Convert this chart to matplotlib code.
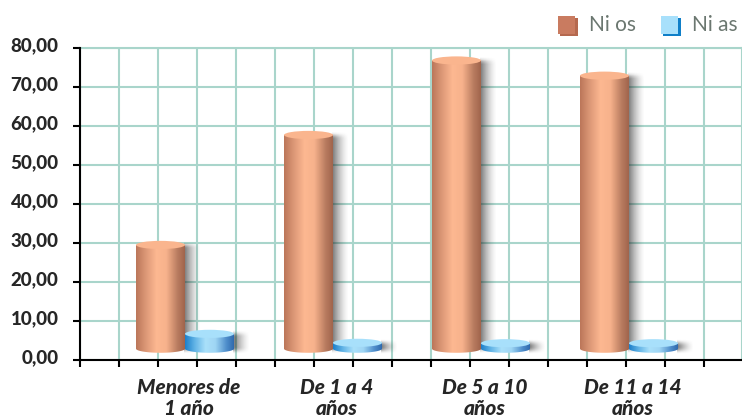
#!/usr/bin/env python3

import numpy as np
import matplotlib
matplotlib.use("Agg")
import matplotlib.pyplot as plt
from matplotlib.colors import LinearSegmentedColormap
from matplotlib.patches import Ellipse, Rectangle
from matplotlib.path import Path
from matplotlib.transforms import ScaledTranslation

categories = ["Menores de\n1 año", "De 1 a 4\naños", "De 5 a 10\naños", "De 11 a 14\naños"]
ninos = [29.5, 57.7, 76.8, 72.9]
ninas = [6.7, 4.4, 4.3, 4.3]
y_ticks = [0, 10, 20, 30, 40, 50, 60, 70, 80]
y_labels = ["0,00", "10,00", "20,00", "30,00", "40,00", "50,00", "60,00", "70,00", "80,00"]
series_names = ["Ni os", "Ni as"]

W, H = 742, 419
GRID = "#a9d5cb"
DARK = "#262626"
BASE = 2.9       # the cylinders float a little above the axis
CAP = 1.05       # half height of the ellipse, in y units
BAR_W = 49 / 148
X_STEP = 39 / 148
X_LEFT = -105 / 148
X_RIGHT = 557 / 148

orange = LinearSegmentedColormap.from_list("orange", [
    (0.0, "#bb7659"), (0.2, "#dc9877"), (0.42, "#fdb891"), (0.62, "#f7b28c"),
    (0.85, "#b97c60"), (1.0, "#a0644c")])
blue = LinearSegmentedColormap.from_list("blue", [
    (0.0, "#1c7fca"), (0.2, "#62b4e6"), (0.42, "#aae0fa"), (0.62, "#9fd6f4"),
    (0.85, "#4f8ecb"), (1.0, "#2f69ad")])


def draw_shadow(ax, x0, x1, top):
    ''' Soft grey shadow falling to the right of a cylinder. '''
    low = BASE - CAP * 1.3
    high = top + CAP * 0.9
    reach = (x1 - x0) * 0.3
    n = 128
    xs = np.linspace(0, 1, n)
    ys = np.linspace(low, high, n)
    # fade over a fixed distance at both ends, so flat discs get the same edge
    edge = 1.8
    fade_y = np.clip((ys - low) / edge, 0, 1) * np.clip((high - ys) / edge, 0, 1)
    fade_y = fade_y * fade_y * (3 - 2 * fade_y)
    fade_x = (1 - xs) ** 1.5
    rgba = np.zeros((n, n, 4))
    rgba[..., :3] = 0.12
    rgba[..., 3] = 0.62 * np.outer(fade_y, fade_x)
    ax.imshow(rgba, extent=(x1 - reach * 0.1, x1 + reach, low, high),
              origin="lower", aspect="auto", zorder=2, interpolation="bilinear")


def draw_cylinder(ax, x0, x1, top, cmap, cap_color):
    ''' Gradient body clipped to a cylinder outline, with a flat top ellipse. '''
    mid = (x0 + x1) / 2
    half = (x1 - x0) / 2
    t = np.linspace(np.pi, 2 * np.pi, 40)
    verts = [(x0, top)] + list(zip(mid + half * np.cos(t), BASE + CAP * np.sin(t))) + [(x1, top)]
    verts = verts + [(x0, top)]
    outline = Path(verts)
    grad = np.linspace(0, 1, 256).reshape(1, -1)
    im = ax.imshow(grad, extent=(x0, x1, BASE - CAP, top), cmap=cmap, aspect="auto", zorder=3)
    im.set_clip_path(outline, transform=ax.transData)
    ax.add_patch(Ellipse((mid, top), x1 - x0, 2 * CAP, facecolor=cap_color, edgecolor="none", zorder=4))


fig = plt.figure(figsize=(W / 100, H / 100), dpi=100)
ax = fig.add_axes([80 / W, (H - 360) / H, (W - 80) / W, 312 / H])

for i, (a, b) in enumerate(zip(ninos, ninas)):
    draw_shadow(ax, i - BAR_W, i, a)
    draw_cylinder(ax, i - BAR_W, i, a, orange, "#fab58e")
    draw_shadow(ax, i, i + BAR_W, b)
    draw_cylinder(ax, i, i + BAR_W, b, blue, "#a8e0fb")

ax.set_xlim(X_LEFT, X_RIGHT)
ax.set_ylim(0, 80)

ax.set_xticks(np.arange(X_LEFT, X_RIGHT + 0.001, X_STEP))
ax.set_xticklabels([])
ax.set_yticks(y_ticks)
ax.set_yticklabels(y_labels, fontname="Lato", fontweight="black", fontsize=13.5, color=DARK)
ax.tick_params(axis="both", which="major", length=5, width=1.5, color="black")
ax.tick_params(axis="y", pad=10.5)
ax.grid(True, color=GRID, linewidth=1.5, zorder=0)
ax.set_axisbelow(True)

# the value labels sit a little above their ticks
up = ScaledTranslation(0, 4 / 100, fig.dpi_scale_trans)
for lab in ax.get_yticklabels():
    lab.set_transform(lab.get_transform() + up)

for side in ["top", "right"]:
    ax.spines[side].set_color(GRID)
    ax.spines[side].set_linewidth(1.5)
for side in ["left", "bottom"]:
    ax.spines[side].set_color("black")
    ax.spines[side].set_linewidth(1.5)
ax.spines["left"].set_zorder(5)
ax.spines["bottom"].set_zorder(5)

# category names sit a few pixels right of the bar pairs
ax.set_xticks(range(len(categories)), minor=True)
ax.set_xticklabels(categories, minor=True, fontname="Lato", fontweight="black", fontstyle="italic",
                   fontsize=15, color=DARK, linespacing=1.12)
ax.tick_params(axis="x", which="minor", length=0, pad=13)
shift = ScaledTranslation(4 / 100, 0, fig.dpi_scale_trans)
for lab in ax.get_xticklabels(minor=True):
    lab.set_transform(lab.get_transform() + shift)

# legend, hand drawn to get the 3d looking squares
legend_items = [(558, "#c97b60", "#b5694f", 589), (661, "#a8e0fb", "#0f7fc8", 692)]
for (px, face, side, tx), name in zip(legend_items, series_names):
    fig.add_artist(Rectangle(((px + 2) / W, (H - 36) / H), 18 / W, 18 / H, transform=fig.transFigure,
                             facecolor=side, edgecolor="none"))
    fig.add_artist(Rectangle((px / W, (H - 34) / H), 17 / W, 18 / H, transform=fig.transFigure,
                             facecolor=face, edgecolor="none"))
    fig.text(tx / W, (H - 25) / H, name, fontname="Lato", fontweight="normal", fontsize=15,
             color="#6b7770", va="center", ha="left")

fig.savefig("out.png", dpi=100)
